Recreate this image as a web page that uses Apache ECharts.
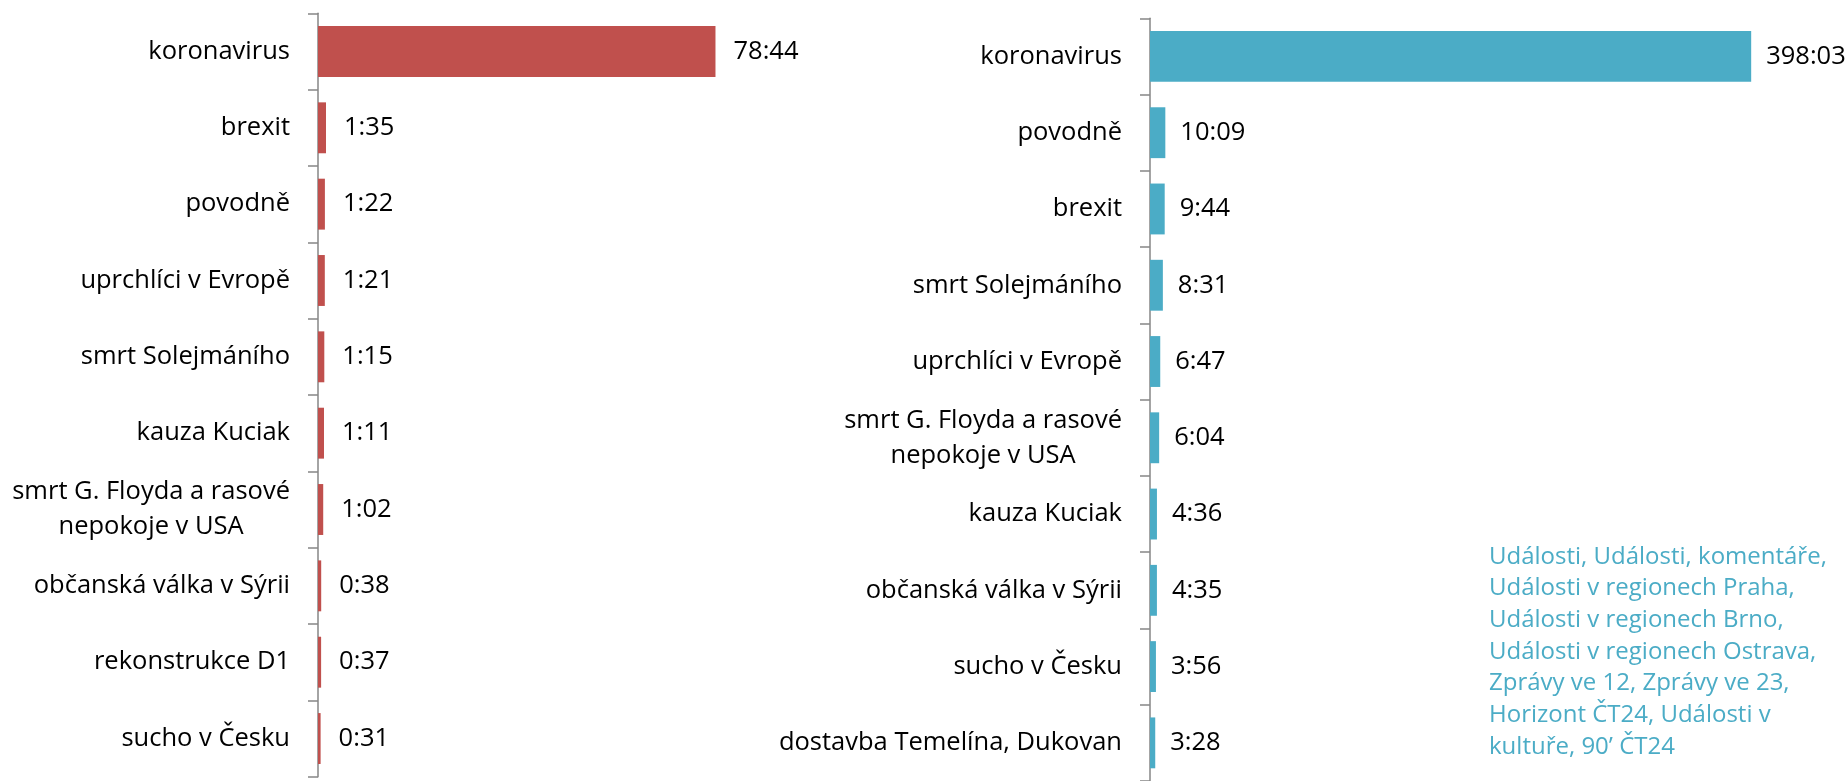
<!DOCTYPE html>
<html>
<head>
    <meta charset="utf-8">
    <title>Témata - stopáž</title>
    <script src="https://cdn.jsdelivr.net/npm/echarts/dist/echarts.min.js"></script>
    <style>
        html, body { margin: 0; padding: 0; background: #fff; }
        #main { width: 1846px; height: 781px; }
    </style>
</head>
<body>
<div id="main"></div>
<script type="text/javascript">

    // levý graf (červený)
    var leftTopics = ['koronavirus', 'brexit', 'povodně', 'uprchlíci v Evropě', 'smrt Solejmáního',
        'kauza Kuciak', 'smrt G. Floyda a rasové\nnepokoje v USA', 'občanská válka v Sýrii',
        'rekonstrukce D1', 'sucho v Česku'];
    var leftTimes = ['78:44', '1:35', '1:22', '1:21', '1:15', '1:11', '1:02', '0:38', '0:37', '0:31'];

    // pravý graf (modrý)
    var rightTopics = ['koronavirus', 'povodně', 'brexit', 'smrt Solejmáního', 'uprchlíci v Evropě',
        'smrt G. Floyda a rasové\nnepokoje v USA', 'kauza Kuciak', 'občanská válka v Sýrii',
        'sucho v Česku', 'dostavba Temelína, Dukovan'];
    var rightTimes = ['398:03', '10:09', '9:44', '8:31', '6:47', '6:04', '4:36', '4:35', '3:56', '3:28'];

    var noteLines = ['Události, Události, komentáře,', 'Události v regionech Praha,',
        'Události v regionech Brno,', 'Události v regionech Ostrava,', 'Zprávy ve 12, Zprávy ve 23,',
        'Horizont ČT24, Události v', 'kultuře, 90’ ČT24'];

    var FONT = 'Open Sans';
    var FS = 25.5;

    // "mm:ss" -> sekundy
    function toSec(t) {
        var p = t.split(':');
        return Number(p[0]) * 60 + Number(p[1]);
    }

    function yAxisFor(idx, topics) {
        return {
            type: 'category',
            gridIndex: idx,
            inverse: true,
            data: topics,
            axisLine: { show: true, lineStyle: { color: '#868686', width: 1.5 } },
            axisTick: { show: true, length: 10, lineStyle: { color: '#868686', width: 1.5 } },
            axisLabel: {
                interval: 0,
                margin: 28,
                formatter: function (v) {
                    return v.split('\n').map(function (s) { return '{c|' + s + '}'; }).join('\n');
                },
                rich: {
                    c: { align: 'center', color: '#000', fontFamily: FONT, fontSize: FS, lineHeight: 35 }
                }
            },
            splitLine: { show: false }
        };
    }

    function seriesFor(idx, times, color, dist) {
        return {
            type: 'bar',
            xAxisIndex: idx,
            yAxisIndex: idx,
            data: times.map(toSec),
            barCategoryGap: '33.3%',
            itemStyle: { color: color },
            label: {
                show: true,
                position: 'right',
                distance: dist,
                color: '#000',
                fontFamily: FONT,
                fontSize: FS,
                formatter: function (p) { return times[p.dataIndex]; }
            },
            silent: true
        };
    }

    var myChart = echarts.init(document.getElementById('main'));

    var option = {
        animation: false,
        backgroundColor: '#fff',
        grid: [
            { left: 318, top: 13.3, width: 420.7, height: 763.4 },
            { left: 1150, top: 18.3, width: 629.3, height: 764 }
        ],
        xAxis: [
            { type: 'value', gridIndex: 0, min: 0, max: 5000, show: false },
            { type: 'value', gridIndex: 1, min: 0, max: 25000, show: false }
        ],
        yAxis: [
            yAxisFor(0, leftTopics),
            yAxisFor(1, rightTopics)
        ],
        series: [
            seriesFor(0, leftTimes, '#C0504D', 18),
            seriesFor(1, rightTimes, '#4BACC6', 15)
        ],
        graphic: [{
            type: 'text',
            left: 1489,
            top: 541,
            style: {
                text: noteLines.join('\n'),
                fill: '#4BACC6',
                fontFamily: FONT,
                fontSize: 24,
                lineHeight: 31.7
            }
        }]
    };

    myChart.setOption(option);

</script>
</body>
</html>
